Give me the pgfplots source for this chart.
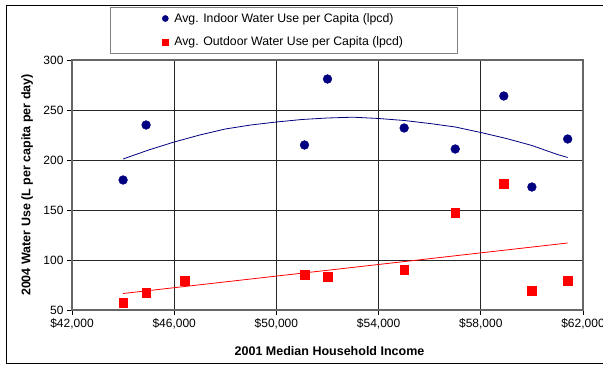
\documentclass[border=0pt]{standalone}
\usepackage{pgfplots}
\pgfplotsset{compat=1.18}
\usepackage{fontspec}
\setmainfont{Liberation Sans}
\definecolor{navy}{RGB}{0,0,128}
\definecolor{xred}{RGB}{255,0,0}
\begin{document}
\begin{tikzpicture}[x=1pt,y=1pt]
\useasboundingbox (0,0) rectangle (603,366);
\clip (0,0) rectangle (603,366);
\fill[white] (0,0) rectangle (603,366);
\draw[black, line width=1pt] (6,2) rectangle (640,360);
\begin{axis}[
  at={(72pt,56pt)}, anchor=south west,
  scale only axis, width=511pt, height=250pt,
  xmin=42000, xmax=62000, ymin=50, ymax=300,
  scaled x ticks=false,
  xtick={42000,46000,50000,54000,58000,62000},
  xticklabels={{\$42,000},{\$46,000},{\$50,000},{\$54,000},{\$58,000},{\$62,000}},
  ytick={50,100,150,200,250,300},
  /pgf/number format/assume math mode=true,
  tick label style={font=\fontsize{12}{14}\selectfont},
  xtick pos=left, ytick pos=left,
  tick align=outside, major tick length=5pt,
  tick style={black, line width=0.8pt},
  grid=major,
  major grid style={black!85, line width=0.7pt},
  axis line style={black!60, line width=1.5pt},
  xlabel={2001 Median Household Income},
  ylabel={2004 Water Use (L per capita per day)},
  label style={font=\fontsize{12.5}{15}\selectfont\bfseries},
  xlabel style={at={(axis description cs:0.504,-0.164)}, anchor=center},
  ylabel style={at={(axis description cs:-0.088,0.5)}, anchor=center, rotate=0},
  legend cell align=left,
  legend image post style={mark size=3pt},
  legend style={at={(0.0744,1.212)}, anchor=north west, draw=black!50, line width=0.6pt,
    inner xsep=52pt, inner ysep=4pt, row sep=9pt, column sep=4pt, font=\fontsize{12.3}{14}\selectfont},
]
\addplot[only marks, mark=*, mark size=4.4pt, color=navy, mark options={fill=navy, draw=navy}]
  coordinates {(44000,180) (44900,235) (51100,215) (52000,281) (55000,232) (57000,211) (58900,264) (60000,173) (61400,221)};
\addlegendentry{Avg. Indoor Water Use per Capita (lpcd)}
\addplot[only marks, mark=square*, mark size=4.3pt, color=xred, mark options={fill=xred, draw=xred}]
  coordinates {(44000,57) (44900,67) (46400,79) (51100,85) (52000,83) (55000,90) (57000,147) (58900,176) (60000,69) (61400,79)};
\addlegendentry{Avg. Outdoor Water Use per Capita (lpcd)}
\addplot[navy, line width=0.8pt, forget plot] coordinates {
  (44000,201) (45000,210) (46000,218) (47000,225) (48000,231) (49000,235) (50000,238)
  (51000,240.5) (52000,242) (53000,242.8) (54000,241.5) (55000,239.5) (56000,236.5)
  (57000,233) (58000,227.5) (59000,221.5) (60000,214.5) (61000,205.5) (61400,202.5)};
\addplot[xred, line width=0.8pt, forget plot] coordinates {(44000,66.5) (61400,117)};
\end{axis}
\end{tikzpicture}
\end{document}
